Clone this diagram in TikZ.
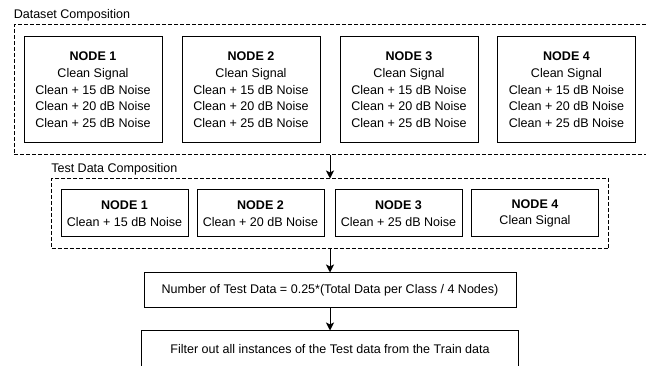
\documentclass[tikz,border=0pt]{standalone}
\usepackage{fontspec}
\setmainfont{Liberation Sans}
\usetikzlibrary{arrows.meta}

\begin{document}
\begin{tikzpicture}[x=0.75pt, y=-0.75pt,
	every node/.style={font=\fontsize{9.4}{12.5}\selectfont},
	part/.style={draw, line width=0.75pt, minimum width=103.5pt, minimum height=79.5pt, align=center, inner sep=0pt},
	testpart/.style={draw, line width=0.75pt, minimum width=95.25pt, minimum height=35.25pt, align=center, inner sep=0pt},
	group/.style={draw, line width=0.75pt, dash pattern=on 3pt off 1.5pt, inner sep=0pt},
	grouplabel/.style={anchor=south west, inner xsep=0pt, inner ysep=2.5pt},
	stepbox/.style={draw, line width=0.75pt, minimum height=26.25pt, inner sep=0pt},
	flow/.style={line width=0.75pt, -{Stealth[length=6pt, width=6pt, inset=1.5pt]}}]
	\useasboundingbox (0,0) rectangle (646,366);

	% dataset composition
	\node[group, minimum width=474pt, minimum height=97.5pt] (grp1) at (330,90) {};
	\node[grouplabel] (lbl1) at (grp1.north west) {Dataset Composition};
	\foreach \i/\x in {1/93, 2/251, 3/409, 4/566.5}
		\node[part] (d\i) at (\x,90) {\textbf{NODE \i}\\Clean Signal\\Clean + 15 dB Noise\\Clean + 20 dB Noise\\Clean + 25 dB Noise};

	% test data composition
	\node[group, minimum width=417.75pt, minimum height=52.5pt] (grp2) at (330,214) {};
	\node[grouplabel] (lbl2) at (grp2.north west) {Test Data Composition};
	\node[testpart] (t1) at (124.5,213.5) {\textbf{NODE 1}\\Clean + 15 dB Noise};
	\node[testpart] (t2) at (260.5,213.5) {\textbf{NODE 2}\\Clean + 20 dB Noise};
	\node[testpart] (t3) at (398.5,213.5) {\textbf{NODE 3}\\Clean + 25 dB Noise};
	\node[testpart] (t4) at (535,213.5) {\textbf{NODE 4}\\Clean Signal};

	% steps
	\node[stepbox, minimum width=279pt] (cnt) at (330,290.5) {Number of Test Data = 0.25*(Total Data per Class / 4 Nodes)};
	\node[stepbox, minimum width=282.75pt, minimum height=27pt] (flt) at (330,349) {Filter out all instances of the Test data from the Train data};

	\draw[flow] (grp1) -- (grp2);
	\draw[flow] (grp2) -- (cnt);
	\draw[flow] (cnt) -- (flt);
\end{tikzpicture}
\end{document}
